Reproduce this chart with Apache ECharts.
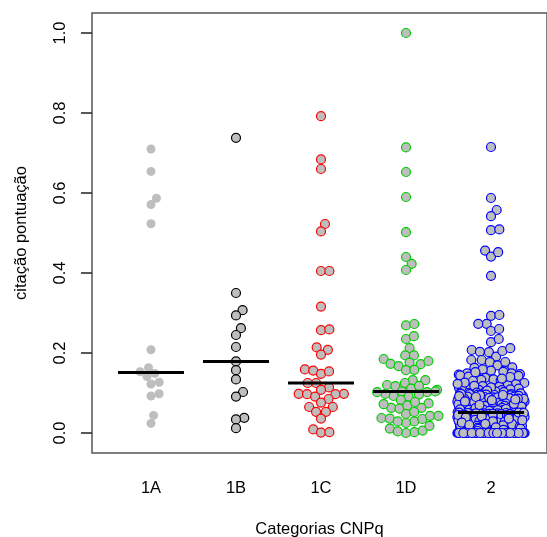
<!DOCTYPE html>
<html><head><meta charset="utf-8">
<script src="https://cdn.jsdelivr.net/npm/echarts@6/dist/echarts.min.js"></script>
<style>html,body{margin:0;padding:0;background:#fff}#c{width:547px;height:537px}</style>
</head><body><div id="c"></div>
<script>
const categories = ['1A', '1B', '1C', '1D', '2'];
const yTicks = [0, 0.2, 0.4, 0.6, 0.8, 1.0];
const xTitle = 'Categorias CNPq';
const yTitle = 'citação pontuação';

const values1A = [0.71, 0.654, 0.587, 0.571, 0.523, 0.208, 0.163, 0.149, 0.153, 0.141, 0.1225, 0.127, 0.0925, 0.098, 0.044, 0.024];
const values1B = [0.738, 0.35, 0.307, 0.294, 0.262, 0.245, 0.215, 0.179, 0.157, 0.134, 0.1025, 0.091, 0.038, 0.034, 0.012];
const values1C = [0.792, 0.684, 0.66, 0.5225, 0.504, 0.405, 0.405, 0.316, 0.257, 0.259, 0.214, 0.208, 0.196, 0.159, 0.156, 0.148, 0.154,
  0.125, 0.125, 0.114, 0.098, 0.097, 0.091, 0.098, 0.097, 0.108, 0.085, 0.076, 0.065, 0.065, 0.053, 0.053, 0.036, 0.009, 0.001, 0.002];
const values1D = [1.0, 0.714, 0.6525, 0.59, 0.502, 0.44, 0.423, 0.4075, 0.269, 0.2725, 0.235, 0.242, 0.212, 0.194, 0.194,
  0.185, 0.173, 0.167, 0.176, 0.172, 0.18, 0.157, 0.158, 0.132, 0.132, 0.12, 0.125, 0.117, 0.111, 0.108, 0.118,
  0.104, 0.102, 0.096, 0.0925, 0.091, 0.0825, 0.0975, 0.102, 0.104, 0.074, 0.063, 0.061, 0.069, 0.063, 0.072, 0.0775,
  0.0475, 0.0525, 0.0375, 0.036, 0.029, 0.025, 0.029, 0.035, 0.043, 0.043, 0.011, 0.002, 0, 0.006, 0.004, 0.018];
const values2 = [0.715, 0.5875, 0.5575, 0.542, 0.507, 0.509, 0.456, 0.441, 0.452, 0.393, 0.293, 0.295, 0.273, 0.273, 0.255, 0.26,
  0.227, 0.235, 0.2075, 0.203, 0.202, 0.191, 0.205, 0.212, 0.1825, 0.1825, 0.177, 0.169, 0.1775, 0.164, 0.163, 0.156, 0.159,
  0.156, 0.153, 0.149, 0.149, 0.146, 0.144, 0.141, 0.139, 0.138, 0.134, 0.133, 0.131, 0.128, 0.127, 0.125, 0.122, 0.121, 0.119,
  0.117, 0.116, 0.113, 0.112, 0.11, 0.108, 0.107, 0.105, 0.104, 0.103, 0.101, 0.1,
  0.152, 0.147, 0.143, 0.14, 0.136, 0.13, 0.126, 0.123, 0.118, 0.114, 0.111, 0.109, 0.106, 0.102, 0.101,
  0.099, 0.098, 0.097, 0.096, 0.095, 0.094, 0.094, 0.093, 0.092, 0.091, 0.09, 0.089, 0.088, 0.088, 0.087, 0.086, 0.085, 0.084,
  0.083, 0.082, 0.082, 0.081, 0.08, 0.079, 0.078, 0.077, 0.077, 0.076, 0.075, 0.074, 0.073, 0.072, 0.071, 0.071, 0.07, 0.069,
  0.068, 0.067, 0.066, 0.066, 0.065, 0.064, 0.063, 0.062, 0.061, 0.061, 0.06, 0.059, 0.059, 0.058, 0.057, 0.057, 0.056, 0.056,
  0.055, 0.055, 0.054, 0.054, 0.054, 0.053, 0.053, 0.053, 0.052, 0.052, 0.052, 0.052, 0.053, 0.055, 0.058, 0.06,
  0.099, 0.097, 0.096, 0.093, 0.091, 0.09, 0.089, 0.087, 0.086, 0.085, 0.084, 0.083, 0.081, 0.08, 0.079, 0.078, 0.076, 0.075,
  0.074, 0.073, 0.072, 0.07, 0.069, 0.068, 0.067, 0.065, 0.064, 0.063, 0.062, 0.06, 0.059, 0.058, 0.057, 0.056, 0.055, 0.054,
  0.053, 0.098, 0.095, 0.092, 0.088, 0.082, 0.077, 0.071, 0.066, 0.061, 0.057, 0.054, 0.094, 0.086, 0.079, 0.073, 0.068, 0.062,
  0.058, 0.055, 0.09, 0.084, 0.07, 0.06,
  0.051, 0.051, 0.05, 0.05, 0.049, 0.049, 0.048, 0.047, 0.047, 0.046, 0.045, 0.045, 0.044, 0.044, 0.043, 0.042, 0.042, 0.041,
  0.04, 0.04, 0.039, 0.038, 0.038, 0.037, 0.036, 0.036, 0.035, 0.034, 0.034, 0.033, 0.032, 0.031, 0.031, 0.03, 0.029, 0.029,
  0.028, 0.027, 0.027, 0.026, 0.025, 0.025, 0.024, 0.023, 0.022, 0.022, 0.021, 0.02, 0.02, 0.019, 0.018, 0.018, 0.017, 0.016,
  0.016, 0.015, 0.014, 0.013, 0.013, 0.012, 0.011, 0.011, 0.01, 0.009, 0.009, 0.008, 0.007, 0.007, 0.006, 0.005, 0.005, 0.004,
  0.003, 0.003, 0.002, 0.002, 0.001, 0.001, 0.004, 0.008, 0.012, 0.017, 0.023, 0.028, 0.033, 0.039, 0.046, 0.05, 0.041, 0.035,
  0.015, 0.006, 0.026, 0.031, 0.019, 0.01, 0.044, 0.048, 0.037, 0.024, 0.014, 0.003, 0.001, 0.002, 0.008, 0.016, 0.021, 0.030,
  0.051, 0.049, 0.046, 0.043, 0.04, 0.037, 0.033, 0.03, 0.027, 0.024, 0.021, 0.018, 0.015, 0.012, 0.009, 0.006, 0.003, 0.001,
  0.05, 0.047, 0.044, 0.041, 0.038, 0.035, 0.032, 0.028, 0.025, 0.022, 0.019, 0.016, 0.013, 0.01, 0.007, 0.004, 0.002, 0.001,
  0.048, 0.042, 0.036, 0.029, 0.023, 0.017, 0.011, 0.005, 0.045, 0.039, 0.032, 0.026, 0.02, 0.014, 0.008,
  0, 0, 0, 0, 0, 0, 0, 0, 0, 0, 0, 0, 0, 0, 0, 0, 0, 0, 0, 0, 0, 0, 0, 0, 0,
  0, 0, 0, 0, 0, 0, 0, 0, 0, 0, 0, 0, 0, 0, 0, 0, 0, 0, 0, 0, 0, 0, 0, 0, 0];

const groups = [values1A, values1B, values1C, values1D, values2];
const borderColors = ['#BEBEBE', '#000000', '#FF0000', '#00CD00', '#0000FF'];
const fillColor = '#BEBEBE';

// layout
const W = 547, H = 537;
const G = { left: 92, right: 0, top: 13, bottom: 84 };
const plotW = W - G.left - G.right, plotH = H - G.top - G.bottom;
const X_MIN = 0.306, X_MAX = X_MIN + plotW / 85;
const Y_MIN = -0.05, Y_MAX = 1.05;
const pxX = plotW / (X_MAX - X_MIN), pxY = plotH / (Y_MAX - Y_MIN);
const SPACING = 8.4;      // swarm spacing in px
const CORRAL = 68;        // corral width in px (wrap)
const HALF_MED = 0.388;   // median segment half-width in x units

function swarm(vals) {
  const idx = vals.map((v, i) => i).sort((a, b) => vals[a] - vals[b]);
  const placed = [];
  const off = new Array(vals.length).fill(0);
  for (const i of idx) {
    const y = vals[i] * pxY;
    const near = placed.filter(p => Math.abs(p.y - y) < SPACING);
    const cands = [0];
    near.forEach(p => { const dx = Math.sqrt(SPACING * SPACING - (p.y - y) ** 2); cands.push(p.x + dx, p.x - dx); });
    cands.sort((a, b) => Math.abs(a) - Math.abs(b) || b - a);
    let best = 0;
    for (const c of cands) {
      if (near.every(p => (p.x - c) ** 2 + (p.y - y) ** 2 >= SPACING * SPACING - 1e-6)) { best = c; break; }
    }
    placed.push({ x: best, y });
    let x = best;
    x = ((x + CORRAL / 2) % CORRAL + CORRAL) % CORRAL - CORRAL / 2;
    off[i] = x;
  }
  return off;
}
function median(a) {
  const s = a.slice().sort((x, y) => x - y), n = s.length;
  return n % 2 ? s[(n - 1) / 2] : (s[n / 2 - 1] + s[n / 2]) / 2;
}

const font = 'Liberation Sans, Arial, Helvetica, sans-serif';
const series = groups.map((vals, g) => {
  const off = swarm(vals);
  return {
    type: 'scatter', symbol: 'circle', symbolSize: 9,
    data: vals.map((v, i) => [g + 1 + off[i] / pxX, v]),
    itemStyle: { color: fillColor, borderColor: borderColors[g], borderWidth: g === 0 ? 0 : 1.2, opacity: 1 },
    emphasis: { disabled: true }, z: 2
  };
});
series.push({
  type: 'custom', z: 5, silent: true,
  data: groups.map((vals, g) => [g + 1, median(vals)]),
  renderItem: (params, api) => {
    const x = api.value(0), y = api.value(1);
    const a = api.coord([x - HALF_MED, y]), b = api.coord([x + HALF_MED, y]);
    return { type: 'line', shape: { x1: a[0], y1: a[1], x2: b[0], y2: b[1] }, style: { stroke: '#000', lineWidth: 3 } };
  }
});

const chart = echarts.init(document.getElementById('c'), null, { renderer: 'canvas' });
chart.setOption({
  animation: false,
  backgroundColor: '#fff',
  grid: { left: G.left, right: G.right, top: G.top, bottom: G.bottom, outerBoundsMode: 'none', containLabel: false,
    show: true, borderColor: '#555', borderWidth: 1.5, backgroundColor: 'transparent' },
  xAxis: {
    type: 'value', min: X_MIN, max: X_MAX,
    axisLine: { show: false }, splitLine: { show: false }, axisTick: { show: false },
    axisLabel: { customValues: [1, 2, 3, 4, 5], formatter: v => categories[Math.round(v) - 1], margin: 27, color: '#000', fontFamily: font, fontSize: 16.5 },
    name: xTitle, nameLocation: 'middle', nameGap: 68, nameTextStyle: { color: '#000', fontFamily: font, fontSize: 16.5 }
  },
  yAxis: {
    type: 'value', min: Y_MIN, max: Y_MAX,
    axisLine: { show: false }, splitLine: { show: false },
    axisTick: { show: true, length: 11, customValues: yTicks, lineStyle: { color: '#222', width: 1.5 } },
    axisLabel: { customValues: yTicks, formatter: v => v.toFixed(1), rotate: 90, margin: 23, color: '#000', fontFamily: font, fontSize: 16.5 },
    name: yTitle, nameLocation: 'middle', nameRotate: 90, nameGap: 62, nameTextStyle: { color: '#000', fontFamily: font, fontSize: 16.5 }
  },
  series
});
</script></body></html>
